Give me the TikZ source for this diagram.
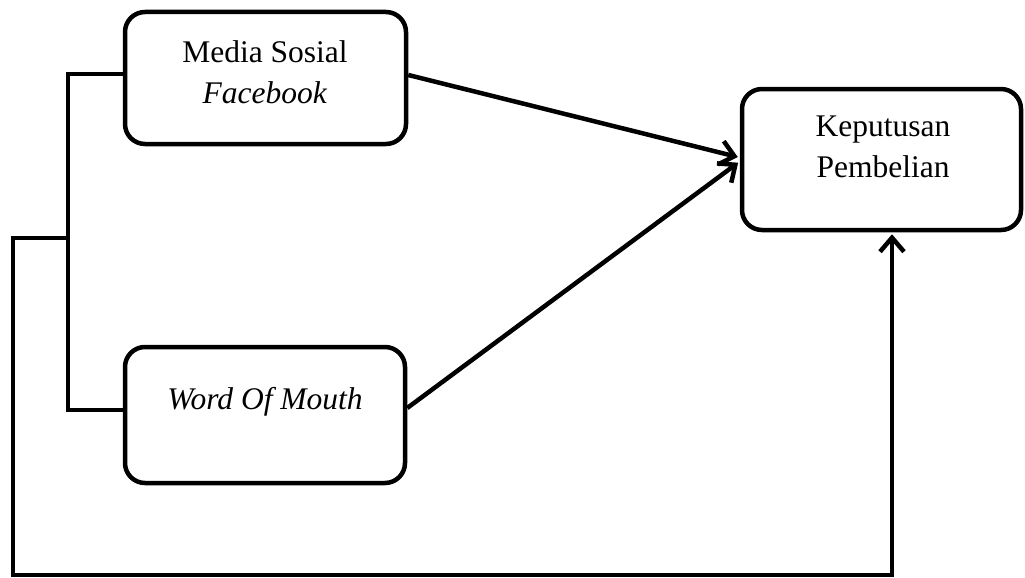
\documentclass[tikz,border=0pt]{standalone}
\usepackage{fontspec}
\setmainfont{Liberation Serif}
\usetikzlibrary{arrows.meta,calc}
\begin{document}
\begin{tikzpicture}[x=1pt,y=-1pt,
  box/.style={draw,line width=4.5pt,rounded corners=20pt,rectangle,inner sep=0pt},
  lbl/.style={align=center,font=\fontsize{31.5}{41}\selectfont,inner sep=0pt},
  conn/.style={line width=4.5pt,line join=miter},
  arr/.style={conn,-{Straight Barb[length=14pt,width=24pt]},shorten >=2pt}]
\useasboundingbox (0,0) rectangle (1025,578);
\node[box,minimum width=281pt,minimum height=132pt] (med) at (265.5,78) {};
\node[box,minimum width=280pt,minimum height=136pt] (wom) at (265,415) {};
\node[box,minimum width=279pt,minimum height=141pt] (kep) at (881.5,159.5) {};
\node[lbl] (medt) at (265,72) {Media Sosial\\\textit{Facebook}};
\node[lbl] (womt) at (265,402) {\textit{Word Of Mouth}};
\node[lbl] (kept) at (883,147) {Keputusan\\Pembelian};
\coordinate (j) at (68,238);
\coordinate (bl) at (13,575);
\draw[arr] ([yshift=3pt]med.east) -- ([yshift=2pt]kep.west);
\draw[arr] ([yshift=7pt]wom.east) -- ([yshift=-2pt]kep.west);
\draw[conn] ([yshift=4pt]med.west) -| (j) |- ([yshift=5pt]wom.west);
\draw[arr] (j) -| (bl) -| ([xshift=10.5pt]kep.south);
\end{tikzpicture}
\end{document}
